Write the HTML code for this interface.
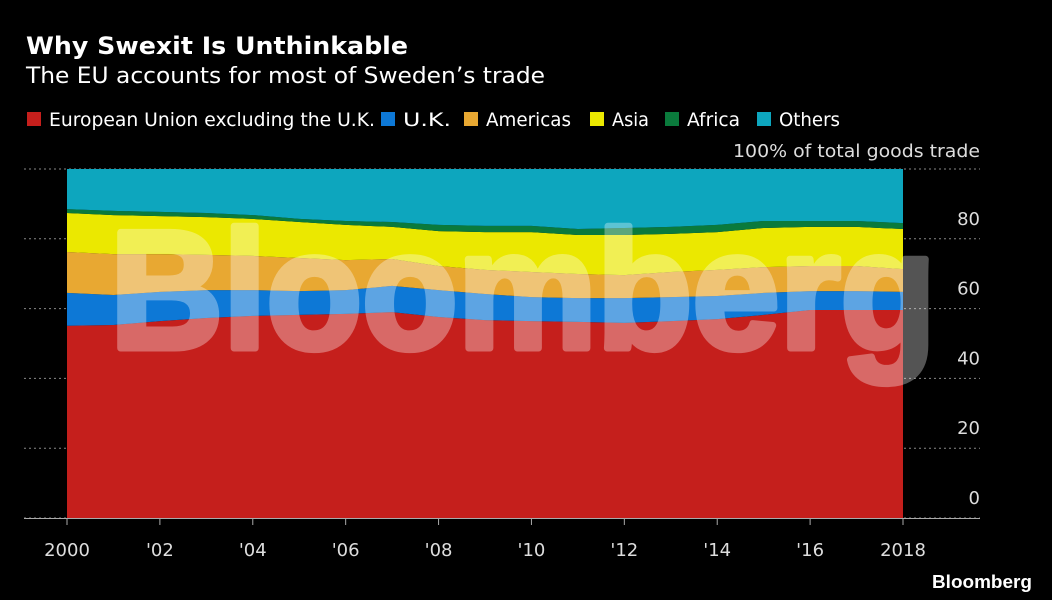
<!DOCTYPE html>
<html><head><meta charset="utf-8"><style>
html,body{margin:0;padding:0;background:#000;}
svg{display:block;font-family:"DejaVu Sans","Liberation Sans",sans-serif;}
</style></head><body>
<svg id="chart" width="1052" height="600" viewBox="0 0 1052 600">
<rect width="1052" height="600" fill="#000"/>
<text x="26" y="54" fill="#fff" font-size="24" font-weight="bold" textLength="382" lengthAdjust="spacingAndGlyphs">Why Swexit Is Unthinkable</text>
<text x="26" y="83" fill="#fff" font-size="22" textLength="519" lengthAdjust="spacingAndGlyphs">The EU accounts for most of Sweden’s trade</text>
<g id="legend"></g>
<text x="980" y="157" fill="#ddd" font-size="18" text-anchor="end" textLength="247" lengthAdjust="spacingAndGlyphs">100% of total goods trade</text>
<g id="grid"></g>
<g id="areas"></g>
<g opacity="0.33">
<text x="110" y="348" fill="#fff" stroke="#fff" stroke-width="7" stroke-linejoin="round" font-family="'Liberation Sans', sans-serif" font-size="168" font-weight="bold" textLength="826" lengthAdjust="spacingAndGlyphs">Bloomberg</text>
</g>
<g id="yticks"></g>
<g id="xticks"></g>
<text x="1032" y="588" fill="#fff" font-family="'Liberation Sans', sans-serif" font-size="18" font-weight="bold" text-anchor="end" textLength="100" lengthAdjust="spacingAndGlyphs">Bloomberg</text>
</svg>
<script>
const years = [2000,2001,2002,2003,2004,2005,2006,2007,2008,2009,2010,2011,2012,2013,2014,2015,2016,2017,2018];
const euShare = [55.1,55.3,56.4,57.3,57.9,58.2,58.5,59.0,57.6,56.7,56.4,56.2,55.9,56.4,57.0,58.2,59.6,59.6,59.6];
const ukShare = [9.4,8.6,8.4,8.0,7.4,6.8,6.8,7.5,7.7,7.5,6.9,6.8,7.1,6.9,6.6,6.3,5.4,5.4,5.2];
const americasShare = [11.7,11.7,10.8,10.1,9.8,9.5,8.6,7.7,6.9,6.9,7.2,6.9,6.6,7.2,7.5,7.4,7.2,7.2,6.5];
const asiaShare = [11.2,11.2,10.9,10.8,10.6,10.3,10.1,9.2,10.0,10.8,11.4,11.2,11.5,10.9,10.8,11.2,11.2,11.2,11.5];
const africaShare = [1.1,1.2,1.2,1.2,1.1,0.9,1.1,1.4,1.8,1.8,1.8,1.7,2.0,2.0,2.1,2.0,1.7,1.7,1.7];
const seriesNames = ["European Union excluding the U.K.","U.K.","Americas","Asia","Africa","Others"];
const yTicks = [0,20,40,60,80];
const xTickYears = [2000,2002,2004,2006,2008,2010,2012,2014,2016,2018];
const xTickLabels = ["2000","'02","'04","'06","'08","'10","'12","'14","'16","2018"];

const NS = "http://www.w3.org/2000/svg";
const colors = ["#c51f1c","#0d78d6","#e8a832","#ebe800","#0a7a3c","#0da6be"];
const x = y => 67 + (y - 2000) * (903 - 67) / 18;
const yS = v => 518 - v * 3.49;
function mk(tag, attrs, parent){const e=document.createElementNS(NS,tag);for(const k in attrs)e.setAttribute(k,attrs[k]);parent.appendChild(e);return e;}

const grid = document.getElementById('grid');
[0,20,40,60,80,100].forEach(v=>{
  const l = mk('line',{x1:24,x2:980,y1:yS(v),y2:yS(v),stroke:'#888','stroke-width':1,'stroke-dasharray':'2,3'},grid);
  
  
});

const othersShare = years.map((_,i)=>100-euShare[i]-ukShare[i]-americasShare[i]-asiaShare[i]-africaShare[i]);
const all = [euShare,ukShare,americasShare,asiaShare,africaShare,othersShare];
const areaNames = ['area-eu','area-uk','area-americas','area-asia','area-africa','area-others'];
const areas = document.getElementById('areas');
let base = years.map(()=>0);
all.forEach((s,k)=>{
  const top = base.map((b,i)=>b+s[i]);
  let d = 'M'+years.map((yr,i)=>x(yr)+','+yS(top[i])).join('L');
  d += 'L'+years.slice().reverse().map((yr,j)=>{const i=years.length-1-j;return x(yr)+','+yS(base[i]);}).join('L')+'Z';
  const p = mk('path',{d:d,fill:colors[k]},areas);
  
  
  base = top;
});

const legend = document.getElementById('legend');
const legX = [27,381,464,590,665,757];
const legW = [326,48,85,37,53,61];
seriesNames.forEach((n,k)=>{
  const r = mk('rect',{x:legX[k],y:112,width:14,height:14,fill:colors[k]},legend);
  
  
  const t = mk('text',{x:legX[k]+22,y:126,fill:'#fff','font-size':19,textLength:legW[k],lengthAdjust:'spacingAndGlyphs'},legend);
  t.textContent = n;
  
  
});

const yt = document.getElementById('yticks');
yTicks.forEach(v=>{
  const t = mk('text',{x:980,y:yS(v)-14,fill:'#ddd','font-size':18,'text-anchor':'end'},yt);
  t.textContent = v;
  
  
});

const xt = document.getElementById('xticks');
const ax = mk('line',{x1:24,x2:980,y1:518.5,y2:518.5,stroke:'#aaa','stroke-width':1},xt);


xTickYears.forEach((yr,i)=>{
  const tk = mk('line',{x1:x(yr),x2:x(yr),y1:518,y2:525,stroke:'#aaa'},xt);
  
  
  const t = mk('text',{x:x(yr),y:556,fill:'#ddd','font-size':18,'text-anchor':'middle'},xt);
  t.textContent = xTickLabels[i];
  
  
});
</script>
</body></html>
